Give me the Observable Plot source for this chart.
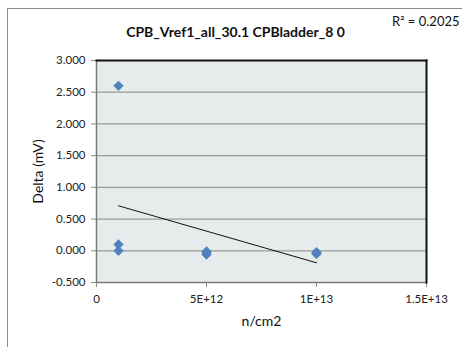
<!DOCTYPE html>
<html>
<head>
<meta charset="utf-8">
<script src="https://cdn.jsdelivr.net/npm/d3@7"></script>
<script src="https://cdn.jsdelivr.net/npm/@observablehq/plot@0.6"></script>
<style>
  html, body { margin: 0; padding: 0; background: #fff; }
  #wrap { position: relative; width: 462px; height: 347px; overflow: hidden; }
  #border { position: absolute; left: 7px; top: 8px; width: 470px; height: 360px; border-left: 1px solid #8c8c8c; border-top: 1px solid #8c8c8c; }
  #chart { position: absolute; left: 0; top: 0; }
</style>
</head>
<body>
<div id="wrap"><div id="border"></div><div id="chart"></div></div>
<script>
const title = "CPB_Vref1_all_30.1 CPBladder_8 0";
const r2Label = "R² = 0.2025";
const xLabel = "n/cm2";
const yLabel = "Delta (mV)";

const fluence = [1e12, 1e12, 1e12, 5e12, 5e12, 5e12, 1e13, 1e13, 1e13];
const delta = [2.6, 0.1, 0.0, -0.01, -0.03, -0.06, -0.02, -0.04, -0.05];

const xTicks = [0, 5e12, 1e13, 1.5e13];
const xTickLabels = ["0", "5E+12", "1E+13", "1.5E+13"];
const yTicks = [-0.5, 0, 0.5, 1, 1.5, 2, 2.5, 3];

const data = fluence.map((x, i) => ({x, y: delta[i]}));

const font = "Lato, 'Open Sans', sans-serif";

const plot = Plot.plot({
  width: 462,
  height: 347,
  marginLeft: 96,
  marginRight: 36,
  marginTop: 60,
  marginBottom: 65,
  style: { fontFamily: font, fontSize: "11.5px", color: "#222", background: "transparent" },
  x: { domain: [0, 1.5e13], ticks: xTicks, tickFormat: d => xTickLabels[xTicks.indexOf(d)], label: null },
  y: { domain: [-0.5, 3], ticks: yTicks, tickFormat: d => d.toFixed(3), label: null },
  marks: [
    Plot.frame({ fill: "#e6ecec", stroke: null }),
    Plot.gridY(yTicks, { stroke: "#9a9a9a", strokeOpacity: 1, strokeWidth: 1.2 }),
    Plot.axisY({ ticks: yTicks, tickFormat: d => d.toFixed(3), tickSize: 5, tickPadding: 6, stroke: "#8c8c8c", label: null, fontSize: 11.5 }),
    Plot.axisX({ ticks: xTicks, tickFormat: d => xTickLabels[xTicks.indexOf(d)], tickSize: 5, tickPadding: 7, stroke: "#8c8c8c", label: null, fontSize: 11.5 }),
    Plot.ruleX([0], { stroke: "#7a7a7a", strokeWidth: 1.5 }),
    Plot.ruleY([-0.5], { stroke: "#7a7a7a", strokeWidth: 1.5 }),
    Plot.frame({ anchor: "top", stroke: "#111", strokeWidth: 2 }),
    Plot.frame({ anchor: "right", stroke: "#111", strokeWidth: 2 }),
    Plot.dot(data, { x: "x", y: "y", symbol: "diamond2", r: 4.4, fill: "#4f81bd", stroke: "#4f81bd", strokeWidth: 0.5 }),
    Plot.linearRegressionY(data, { x: "x", y: "y", stroke: "#111", strokeWidth: 1, ci: 0 }),
    Plot.text([title], { frameAnchor: "top", textAnchor: "middle", lineAnchor: "middle", dy: -28, dx: -26, fontWeight: "bold", fontSize: 14, fill: "#111" }),
    Plot.text([r2Label], { frameAnchor: "top-right", dx: 33, dy: -39, textAnchor: "end", lineAnchor: "middle", fontSize: 13, fill: "#111" }),
    Plot.text([xLabel], { frameAnchor: "bottom", textAnchor: "middle", lineAnchor: "middle", dy: 39, dx: 0, fontSize: 14, fill: "#111" }),
    Plot.text([yLabel], { frameAnchor: "left", textAnchor: "middle", lineAnchor: "middle", dx: -58, rotate: -90, fontSize: 14, fill: "#111" })
  ]
});
document.getElementById("chart").appendChild(plot);
</script>
</body>
</html>
